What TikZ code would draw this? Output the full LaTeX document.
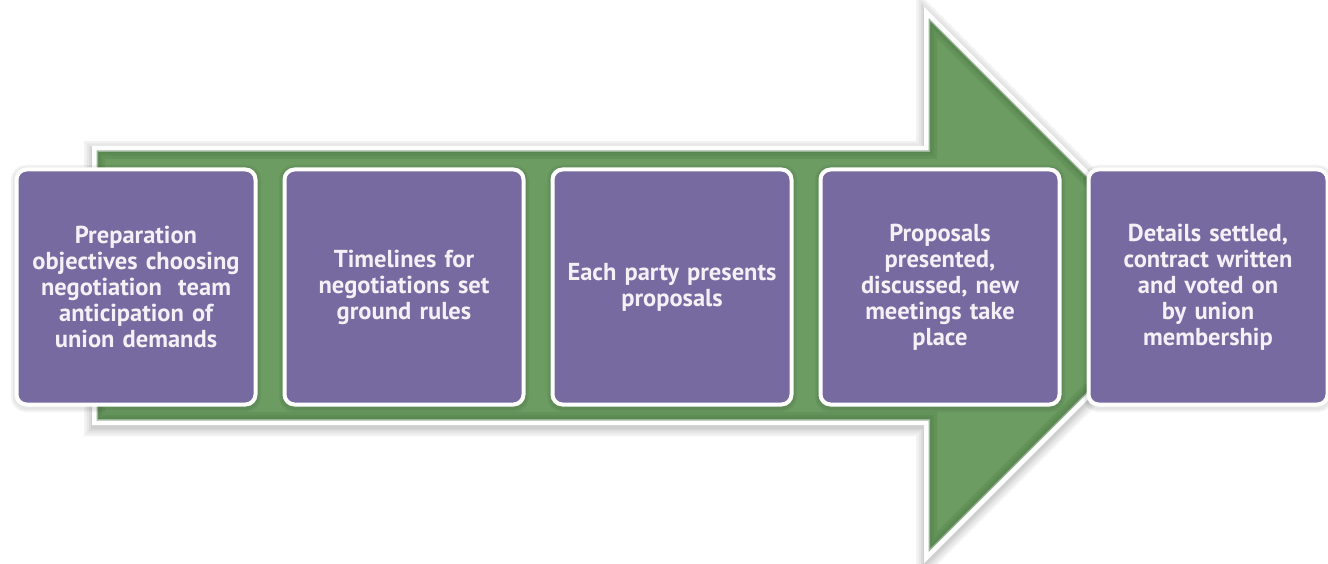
\documentclass[tikz,border=0pt]{standalone}
\usepackage{fontspec}
\setmainfont{PT Sans}
\definecolor{bandgreen}{RGB}{108,156,98}
\definecolor{banddark}{RGB}{72,116,64}
\definecolor{stagepurple}{RGB}{118,106,160}
\definecolor{stagetext}{RGB}{244,240,248}
\newcommand{\bandoutline}{(95,149) -- (927,149) -- (927,14) -- (1198,285) -- (927,556) -- (927,422) -- (95,422) -- cycle}
\begin{document}
\begin{tikzpicture}[
    x=1pt, y=-1pt,
    glow/.style={draw=black, line join=miter, opacity=0.05},
    stage/.style={rectangle, rounded corners=10pt, fill=stagepurple, draw=white,
        line width=4pt, minimum width=239pt, minimum height=235pt,
        text width=232pt, align=center, text=stagetext,
        font=\bfseries\fontsize{24.5}{26}\selectfont}
]

\useasboundingbox (0,0) rectangle (1328,564);

% soft shadow round the band
\foreach \w in {22,17,12,8}
    \draw[glow, line width=\w pt, yshift=-3pt] \bandoutline;
\draw[fill=bandgreen, draw=white, line width=6pt, line join=miter] \bandoutline;
\begin{scope}
    \clip \bandoutline;
    \foreach \w in {20,14,9}
        \draw[banddark, line width=\w pt, opacity=0.22, line join=miter] \bandoutline;
\end{scope}
\draw[white, line width=3pt, line join=miter] \bandoutline;

% shadows under the stages
\foreach \x in {136,404,672,940,1208}
    \foreach \w in {10,6}
        \draw[glow, line width=\w pt, rounded corners=10pt] (\x-120,170) rectangle (\x+120,407);

\node[stage] (prep) at (136,287) {Preparation\\objectives choosing\\negotiation\ \ team\\anticipation of\\union demands};
\node[stage] (timeline) at (404,287) {Timelines for\\negotiations set\\ground rules};
\node[stage] (present) at (672,287) {Each party presents\\proposals};
\node[stage] (discuss) at (940,287) {Proposals\\presented,\\discussed, new\\meetings take\\place};
\node[stage] (settle) at (1208,287) {Details settled,\\contract written\\and voted on\\by union\\membership};

\end{tikzpicture}
\end{document}
